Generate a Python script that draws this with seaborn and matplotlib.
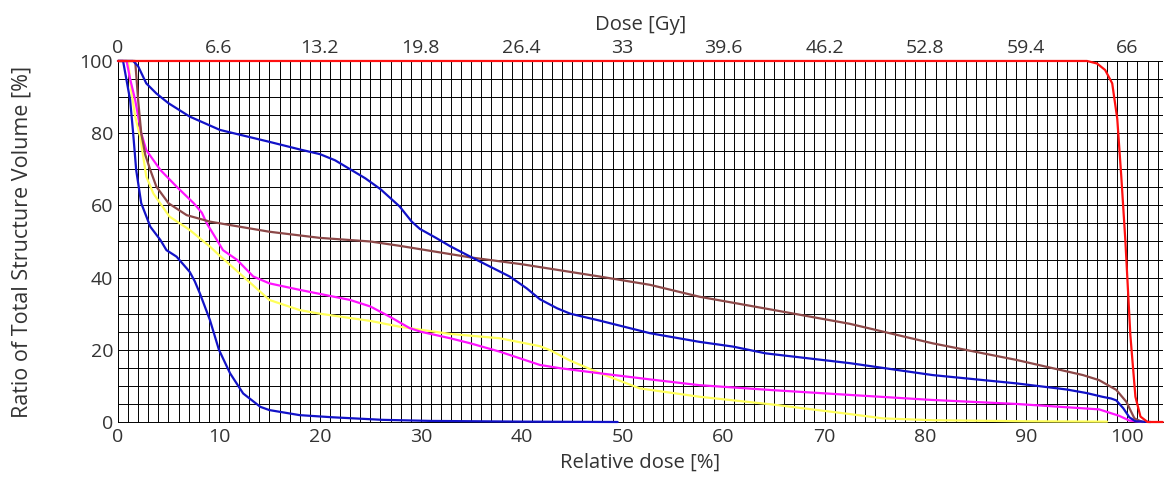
import numpy as np
import pandas as pd
import seaborn as sns
import matplotlib.pyplot as plt

# DVH curves: relative dose [%] vs volume [%]
red_x = [0, 96, 97, 97.8, 98.5, 99.0, 99.4, 99.8, 100.3, 100.8, 101.3, 102.0, 103.5]
red_y = [100, 100, 99.3, 97.5, 93.8, 84, 68, 50.4, 24, 7, 1.5, 0, 0]

blue_a_x = [0, 1.5, 2.0, 2.8, 3.8, 5.0, 7.1, 10.1, 15.0, 18, 20, 21.5, 23, 24.5, 26, 27.9, 29.1, 29.9,
            31.5, 32.9, 34.9, 38.8, 40.5, 41.8, 43.5, 44.8, 47.7, 52.7, 57.6, 60.9, 64.2, 72.5, 80.7, 89.0,
            94, 96, 97.5, 98.4, 98.9, 99.6, 100.2, 100.8, 102.3]
blue_a_y = [100, 100, 98.5, 93.8, 91, 88.3, 84.6, 80.9, 77.6, 75.5, 74.2, 72.5, 70, 67.5, 64.5, 59.7, 55.5, 53.5,
            51, 48.7, 45.8, 40.3, 37, 34, 31.5, 30, 28.1, 24.6, 22.2, 20.9, 19.0, 16.3, 13, 10.7,
            9, 8.0, 7, 6.5, 6.0, 3.8, 1.3, 0.2, 0]

brown_x = [0, 1.7, 2.0, 2.3, 2.7, 3.2, 3.8, 5.0, 6.8, 9.1, 15.0, 20, 25, 27.9, 34.9, 40,
           47.7, 52.7, 57.6, 65, 72.5, 80.7, 89, 95.6, 97.2, 98.9, 99.9, 100.7, 101.5]
brown_y = [100, 100, 89, 80, 74, 69.8, 65.2, 60.6, 57.3, 55.5, 52.7, 51, 50, 48.8, 45.6, 43.7,
           40.3, 38, 34.7, 31, 27.2, 21.8, 17.2, 13.0, 11.6, 8.9, 5.6, 1.0, 0]

magenta_x = [0, 0.85, 1.2, 1.7, 2.3, 2.8, 4.2, 5.8, 7.5, 8.3, 8.8, 9.8, 10.4, 11.8, 13.4, 15, 18,
             23, 25, 26.9, 28.9, 30, 32.9, 34.9, 37.8, 41.8, 43.8, 47.7, 52.7, 57.6, 65,
             72.5, 80.7, 89, 97.2, 99.2, 100.2, 101.5]
magenta_y = [100, 100, 95, 89.2, 80, 75.3, 69.8, 65.2, 60.6, 58, 55, 50.4, 47.6, 44.9, 40.3, 38.4, 36.6,
             33.8, 32, 29.2, 26, 25, 23.2, 21.8, 19.5, 15.8, 14.9, 13.5, 11.8, 10.2, 8.8,
             7.5, 6.1, 5.0, 3.5, 1.7, 0.4, 0]

yellow_x = [0, 1.0, 1.3, 1.7, 2.2, 2.8, 3.5, 5.1, 7.1, 9.1, 10.1, 12.4, 15, 18, 20, 25, 27.9,
            32.9, 37.8, 41.8, 42.8, 44.8, 47.5, 51.7, 57.6, 65, 72.5, 75.8, 80.7, 90, 98]
yellow_y = [100, 100, 92, 84.6, 79, 68, 63.3, 56.9, 53.2, 48.6, 46, 40.3, 33.8, 31, 30, 28, 26.4,
            24.4, 23.2, 21, 19.9, 17, 13.8, 9.3, 7.0, 4.8, 2.2, 1.0, 0.5, 0.2, 0.1]

blue_b_x = [0, 0.5, 1.2, 1.5, 1.8, 2.3, 3.2, 4.2, 4.8, 5.8, 7.1, 7.6, 8.1, 9.1, 10.0, 11.1, 12.4,
            14.1, 15, 18, 21.3, 26.2, 31, 40, 49.5]
blue_b_y = [100, 100, 89.2, 80, 69.8, 60.6, 54.1, 50.4, 47.6, 45.8, 41.6, 39, 35.7, 28.3, 20, 13.5, 7.9,
            4.2, 3.3, 1.9, 1.3, 0.6, 0.3, 0.1, 0]

gy_ticks = [0, 6.6, 13.2, 19.8, 26.4, 33, 39.6, 46.2, 52.8, 59.4, 66]
gy_labels = ['0', '6.6', '13.2', '19.8', '26.4', '33', '39.6', '46.2', '52.8', '59.4', '66']

curves = {
    'yellow': (yellow_x, yellow_y),
    'blue_b': (blue_b_x, blue_b_y),
    'magenta': (magenta_x, magenta_y),
    'brown': (brown_x, brown_y),
    'blue_a': (blue_a_x, blue_a_y),
    'red': (red_x, red_y),
}
palette = {'yellow': '#ffff5a', 'blue_b': '#1212c8', 'magenta': '#ff14ff',
           'brown': '#8c4848', 'blue_a': '#1212c8', 'red': '#ff1010'}

df = pd.concat([pd.DataFrame({'dose': x, 'volume': y, 'structure': name})
                for name, (x, y) in curves.items()], ignore_index=True)

sns.set_style('white')
plt.rcParams['font.family'] = ['Open Sans', 'DejaVu Sans']

fig = plt.figure(figsize=(11.65, 4.79), dpi=100)
ax = fig.add_axes([0.1013, 0.119, 0.8967, 0.7537])

sns.lineplot(data=df, x='dose', y='volume', hue='structure', palette=palette,
             estimator=None, sort=False, legend=False, linewidth=1.6, ax=ax, zorder=3)
for line in ax.lines:
    line.set_clip_on(False)

ax.set_xlim(0, 103.5)
ax.set_ylim(0, 100)
ax.set_xticks(np.arange(0, 101, 10))
ax.set_xticks(np.arange(0, 104, 1), minor=True)
ax.set_yticks(np.arange(0, 101, 20))
ax.set_yticks(np.arange(0, 101, 5), minor=True)
ax.grid(which='both', color='black', linewidth=0.7)
ax.tick_params(which='both', length=0, labelsize=14, labelcolor='#333333')
ax.tick_params(axis='x', pad=4)
ax.tick_params(axis='y', pad=3.5)
for s in ['top', 'right']:
    ax.spines[s].set_visible(False)
for s in ['left', 'bottom']:
    ax.spines[s].set_color('black')
    ax.spines[s].set_linewidth(0.7)

ax.set_xlabel('Relative dose [%]', fontsize=14.6, color='#333333', labelpad=5)
ax.set_ylabel('Ratio of Total Structure Volume [%]', fontsize=15.5, color='#333333', labelpad=34)

secax = ax.secondary_xaxis('top', functions=(lambda d: d * 0.66, lambda g: g / 0.66))
secax.set_xticks(gy_ticks)
secax.set_xticklabels(gy_labels)
secax.tick_params(length=0, labelsize=14, labelcolor='#333333', pad=3)
secax.spines['top'].set_visible(False)
secax.set_xlabel('Dose [Gy]', fontsize=14.6, color='#333333', labelpad=6)

fig.savefig('out.png', dpi=100)
